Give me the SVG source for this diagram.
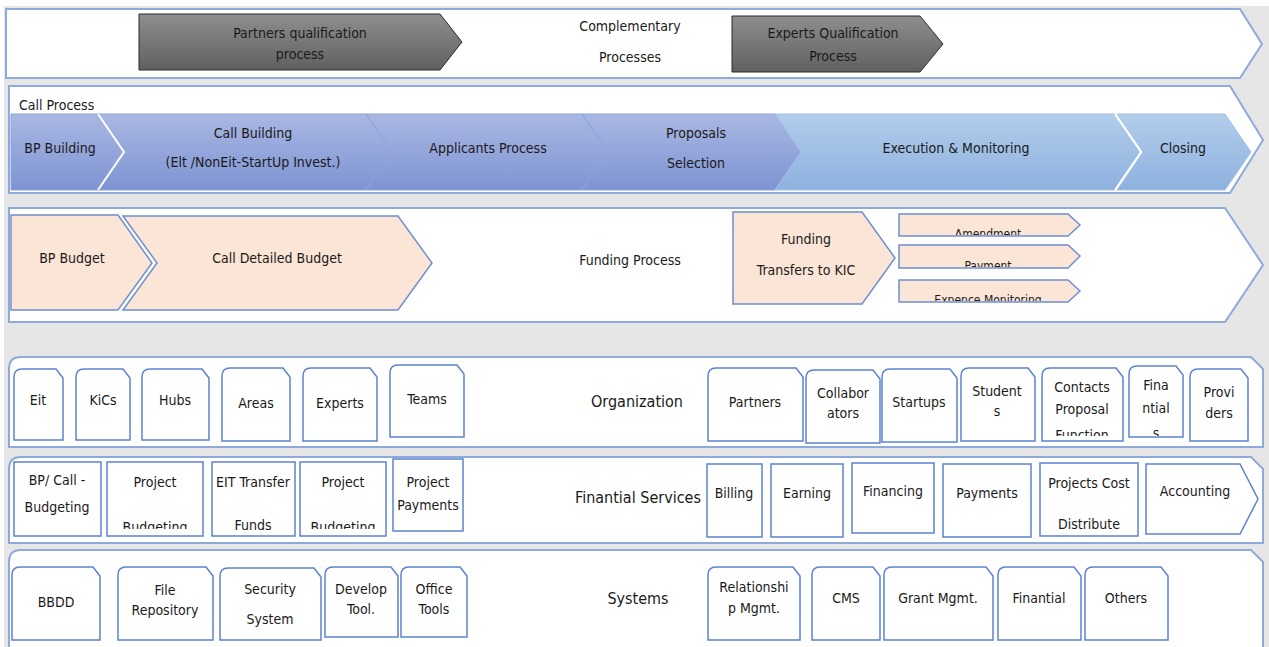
<svg xmlns="http://www.w3.org/2000/svg" width="1269" height="647" viewBox="0 0 1269 647">
<defs>
<linearGradient id="gGray" x1="0" y1="0" x2="0" y2="1"><stop offset="0" stop-color="#8e8e8e"/><stop offset="1" stop-color="#606060"/></linearGradient>
<linearGradient id="gBlue" x1="0" y1="0" x2="0" y2="1"><stop offset="0" stop-color="#a9b7e2"/><stop offset="1" stop-color="#7e94d3"/></linearGradient>
<linearGradient id="gLight" x1="0" y1="0" x2="0" y2="1"><stop offset="0" stop-color="#b3cdeb"/><stop offset="1" stop-color="#8db1df"/></linearGradient>
<clipPath id="c1"><rect x="899" y="214" width="181" height="21"/></clipPath>
<clipPath id="c2"><rect x="899" y="245" width="181" height="22"/></clipPath>
<clipPath id="c3"><rect x="899" y="280" width="181" height="21"/></clipPath>
<clipPath id="cOrg"><rect x="0" y="360" width="1269" height="76"/></clipPath>
<clipPath id="cFin"><rect x="0" y="460" width="1269" height="69"/></clipPath>
</defs>
<style>
text{font-family:"Liberation Sans Narrow","DejaVu Sans Condensed","Liberation Sans",sans-serif;font-size:14px;fill:#1a1a1a;text-anchor:middle}
.title{font-size:16px}
.lab{text-anchor:start}
.small{font-size:12px}
.cont{fill:#ffffff;stroke:#8eaadb;stroke-width:2}
.gray{fill:url(#gGray);stroke:#2b2b2b;stroke-width:1}
.dk{fill:url(#gBlue);stroke:#8aa3dc;stroke-width:1}
.lt{fill:url(#gLight);stroke:#a6bfe6;stroke-width:1}
.wht{stroke:#ffffff;stroke-width:2}
.peach{fill:#fbe5d6;stroke:#6f8fd0;stroke-width:1.5}
.box{fill:#ffffff;stroke:#5b82d0;stroke-width:1.5}
</style>
<rect x="0" y="0" width="1269" height="647" fill="#ffffff"/>
<rect x="4" y="6" width="1265" height="641" fill="#e6e6e6"/>

<g id="complementary">
<path class="cont" d="M6,9 L1240,9 L1262,44 L1240,78 L6,78 Z"/>
<text x="630" y="31">Complementary</text>
<text x="630" y="62">Processes</text>
</g>
<g id="partners-qualification">
<path class="gray" d="M139,14 L440,14 L462,42 L440,70 L139,70 Z"/>
<text x="300" y="38">Partners qualification</text>
<text x="300" y="59">process</text>
</g>
<g id="experts-qualification">
<path class="gray" d="M732,16 L920,16 L943,44 L920,72 L732,72 Z"/>
<text x="833" y="38">Experts Qualification</text>
<text x="833" y="61">Process</text>
</g>

<g id="call-process">
<path class="cont" d="M9,86 L1230,86 L1263,140 L1230,193 L9,193 Z"/>
<text class="lab" x="19" y="110">Call Process</text>
</g>
<g id="bp-building">
<path class="dk" d="M11,114 L100,114 L126,152 L100,190 L11,190 Z"/>
<text x="60" y="153">BP Building</text>
</g>
<g id="call-building">
<path class="dk" d="M98,114 L366,114 L392,152 L366,190 L98,190 L124,152 Z"/>
<path class="wht" fill="none" d="M98,114 L124,152 L98,190"/>
<text x="253" y="138">Call Building</text>
<text x="253" y="167">(Elt /NonEit-StartUp Invest.)</text>
</g>
<g id="applicants-process">
<path class="dk" d="M366,114 L582,114 L608,152 L582,190 L366,190 L392,152 Z"/>
<text x="488" y="153">Applicants Process</text>
</g>
<g id="proposals-selection">
<path class="dk" d="M582,114 L775,114 L801,152 L775,190 L582,190 L608,152 Z"/>
<text x="696" y="138">Proposals</text>
<text x="696" y="168">Selection</text>
</g>
<g id="execution-monitoring">
<path class="lt" d="M775,114 L1115,114 L1141,152 L1115,190 L775,190 L801,152 Z"/>
<text x="956" y="153">Execution &amp; Monitoring</text>
</g>
<g id="closing">
<path class="lt" d="M1117,114 L1225,114 L1251,152 L1225,190 L1117,190 L1143,152 Z"/>
<path class="wht" fill="none" d="M1115,114 L1141,152 L1115,190"/>
<text x="1183" y="153">Closing</text>
</g>

<g id="funding-process">
<path class="cont" d="M9,208 L1225,208 L1263,265 L1225,322 L9,322 Z"/>
<text x="630" y="265">Funding Process</text>
</g>
<g id="bp-budget">
<path class="peach" d="M11,215 L118,215 L152,263 L118,310 L11,310 Z"/>
<text x="72" y="263">BP Budget</text>
</g>
<g id="call-detailed-budget">
<path class="peach" d="M123,216 L398,216 L432,263 L398,310 L123,310 L157,263 Z"/>
<text x="277" y="263">Call Detailed Budget</text>
</g>
<g id="funding-transfers">
<path class="peach" d="M733,212 L862,212 L895,258 L862,304 L733,304 Z"/>
<text x="806" y="244">Funding</text>
<text x="806" y="275">Transfers to KIC</text>
</g>
<g id="amendment">
<path class="peach" d="M899,214 L1068,214 L1080,225 L1068,236 L899,236 Z"/>
<text class="small" x="988" y="238" clip-path="url(#c1)">Amendment</text>
</g>
<g id="payment">
<path class="peach" d="M899,245 L1068,245 L1080,256 L1068,268 L899,268 Z"/>
<text class="small" x="988" y="270" clip-path="url(#c2)">Payment</text>
</g>
<g id="expense-monitoring">
<path class="peach" d="M899,280 L1068,280 L1080,291 L1068,302 L899,302 Z"/>
<text class="small" x="988" y="304" clip-path="url(#c3)">Expence Monitoring</text>
</g>

<g id="organization">
<path class="cont" d="M9,447 L9,369 Q9,357 21,357 L1251,357 L1263,369 L1263,447 Z"/>
<text class="title" x="637" y="407">Organization</text>
</g>
<g id="org-items">
<g id="eit"><path class="box" d="M14,440 L14,377 Q14,369 22,369 L56,369 L63,378 L63,440 Z"/><text x="38" y="405">Eit</text></g>
<g id="kics"><path class="box" d="M76,440 L76,377 Q76,369 84,369 L123,369 L130,378 L130,440 Z"/><text x="103" y="405">KiCs</text></g>
<g id="hubs"><path class="box" d="M142,440 L142,377 Q142,369 150,369 L202,369 L209,378 L209,440 Z"/><text x="175" y="405">Hubs</text></g>
<g id="areas"><path class="box" d="M222,441 L222,376 Q222,368 230,368 L283,368 L290,377 L290,441 Z"/><text x="256" y="408">Areas</text></g>
<g id="experts"><path class="box" d="M303,441 L303,376 Q303,368 311,368 L370,368 L377,377 L377,441 Z"/><text x="340" y="408">Experts</text></g>
<g id="teams"><path class="box" d="M390,437 L390,373 Q390,365 398,365 L457,365 L464,374 L464,437 Z"/><text x="427" y="404">Teams</text></g>
<g id="partners"><path class="box" d="M708,441 L708,376 Q708,368 716,368 L796,368 L803,377 L803,441 Z"/><text x="755" y="407">Partners</text></g>
<g id="collaborators"><path class="box" d="M806,443 L806,378 Q806,370 814,370 L873,370 L880,379 L880,443 Z"/><text x="843" y="398">Collabor</text><text x="843" y="418">ators</text></g>
<g id="startups"><path class="box" d="M882,442 L882,377 Q882,369 890,369 L950,369 L957,378 L957,442 Z"/><text x="919" y="407">Startups</text></g>
<g id="students"><path class="box" d="M961,441 L961,376 Q961,368 969,368 L1028,368 L1035,377 L1035,441 Z"/><text x="997" y="396">Student</text><text x="997" y="416">s</text></g>
<g id="contacts"><path class="box" d="M1042,441 L1042,376 Q1042,368 1050,368 L1116,368 L1123,377 L1123,441 Z"/><text x="1082" y="392">Contacts</text><text x="1082" y="414">Proposal</text><text x="1082" y="440" clip-path="url(#cOrg)">Function</text></g>
<g id="finantials"><path class="box" d="M1129,437 L1129,374 Q1129,366 1137,366 L1176,366 L1183,375 L1183,437 Z"/><text x="1156" y="390">Fina</text><text x="1156" y="413">ntial</text><text x="1156" y="438" clip-path="url(#cOrg)">s</text></g>
<g id="providers"><path class="box" d="M1190,441 L1190,377 Q1190,369 1198,369 L1241,369 L1248,378 L1248,441 Z"/><text x="1219" y="397">Provi</text><text x="1219" y="418">ders</text></g>
</g>

<g id="finantial-services">
<path class="cont" d="M9,543 L9,469 Q9,457 21,457 L1251,457 L1263,469 L1263,543 Z"/>
<text class="title" x="638" y="503">Finantial Services</text>
</g>
<g id="fin-items">
<g id="bp-call-budgeting"><rect class="box" x="14" y="462" width="87" height="74"/><text x="57" y="485">BP/ Call -</text><text x="57" y="512">Budgeting</text></g>
<g id="project-budgeting-1"><rect class="box" x="107" y="462" width="96" height="74"/><text x="155" y="487">Project</text><text x="155" y="532" clip-path="url(#cFin)">Budgeting</text></g>
<g id="eit-transfer-funds"><rect class="box" x="212" y="462" width="83" height="74"/><text x="253" y="487">EIT Transfer</text><text x="253" y="530">Funds</text></g>
<g id="project-budgeting-2"><rect class="box" x="300" y="462" width="86" height="74"/><text x="343" y="487">Project</text><text x="343" y="532" clip-path="url(#cFin)">Budgeting</text></g>
<g id="project-payments"><rect class="box" x="393" y="459" width="70" height="72"/><text x="428" y="487">Project</text><text x="428" y="510">Payments</text></g>
<g id="billing"><rect class="box" x="707" y="464" width="55" height="73"/><text x="734" y="498">Billing</text></g>
<g id="earning"><rect class="box" x="771" y="464" width="72" height="73"/><text x="807" y="498">Earning</text></g>
<g id="financing"><rect class="box" x="852" y="463" width="82" height="70"/><text x="893" y="496">Financing</text></g>
<g id="payments"><rect class="box" x="943" y="464" width="88" height="73"/><text x="987" y="498">Payments</text></g>
<g id="projects-cost"><rect class="box" x="1040" y="463" width="98" height="73"/><text x="1089" y="488">Projects Cost</text><text x="1089" y="529">Distribute</text></g>
<g id="accounting"><path class="box" d="M1146,464 L1240,464 L1258,499 L1240,534 L1146,534 Z"/><text x="1195" y="496">Accounting</text></g>
</g>

<g id="systems">
<path class="cont" d="M9,652 L9,562 Q9,550 21,550 L1251,550 L1263,562 L1263,652 Z"/>
<text class="title" x="638" y="604">Systems</text>
</g>
<g id="sys-items">
<g id="bbdd"><path class="box" d="M12,640 L12,575 Q12,567 20,567 L93,567 L100,576 L100,640 Z"/><text x="56" y="607">BBDD</text></g>
<g id="file-repository"><path class="box" d="M118,640 L118,575 Q118,567 126,567 L206,567 L213,576 L213,640 Z"/><text x="165" y="595">File</text><text x="165" y="615">Repository</text></g>
<g id="security-system"><path class="box" d="M220,640 L220,576 Q220,568 228,568 L314,568 L321,577 L321,640 Z"/><text x="270" y="594">Security</text><text x="270" y="624">System</text></g>
<g id="develop-tool"><path class="box" d="M325,637 L325,575 Q325,567 333,567 L391,567 L398,576 L398,637 Z"/><text x="361" y="594">Develop</text><text x="361" y="614">Tool.</text></g>
<g id="office-tools"><path class="box" d="M401,637 L401,575 Q401,567 409,567 L460,567 L467,576 L467,637 Z"/><text x="434" y="594">Office</text><text x="434" y="614">Tools</text></g>
<g id="relationship"><path class="box" d="M708,640 L708,575 Q708,567 716,567 L793,567 L800,576 L800,640 Z"/><text x="754" y="592">Relationshi</text><text x="754" y="613">p Mgmt.</text></g>
<g id="cms"><path class="box" d="M812,640 L812,575 Q812,567 820,567 L873,567 L880,576 L880,640 Z"/><text x="846" y="603">CMS</text></g>
<g id="grant-mgmt"><path class="box" d="M884,640 L884,575 Q884,567 892,567 L986,567 L993,576 L993,640 Z"/><text x="938" y="603">Grant Mgmt.</text></g>
<g id="finantial"><path class="box" d="M998,640 L998,575 Q998,567 1006,567 L1074,567 L1081,576 L1081,640 Z"/><text x="1039" y="603">Finantial</text></g>
<g id="others"><path class="box" d="M1085,640 L1085,575 Q1085,567 1093,567 L1161,567 L1168,576 L1168,640 Z"/><text x="1126" y="603">Others</text></g>
</g>
<g id="connectors"></g>
</svg>
